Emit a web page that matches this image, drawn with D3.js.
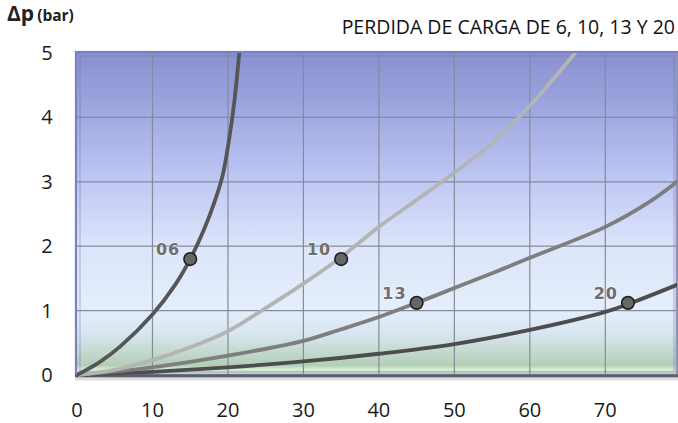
<!DOCTYPE html>
<html><head><meta charset="utf-8">
<script src="https://cdn.jsdelivr.net/npm/d3@7"></script>
<style>body{margin:0;background:#fff}svg{display:block}</style>
</head><body>
<svg id="c" width="678" height="423"></svg>
<script>
const title = "PERDIDA DE CARGA DE 6, 10, 13 Y 20";
const xTicks = [0,10,20,30,40,50,60,70];
const yTicks = [0,1,2,3,4,5];
const seriesNames = ["06","10","13","20"];
const s06 = [[0,0],[3,0.2],[5.7,0.44],[10,0.94],[13,1.4],[15,1.8],[16.8,2.25],[18.2,2.68],[19.3,3.1],[20.1,3.62],[20.8,4.2],[21.5,5.0]];
const s10 = [[0,0],[5,0.08],[10,0.23],[15,0.43],[20,0.68],[25,1.04],[30,1.42],[35,1.83],[40,2.3],[45,2.72],[50,3.14],[55,3.6],[60,4.18],[66,5.0]];
const s13 = [[0,0],[10,0.12],[20,0.3],[30,0.53],[35,0.71],[40,0.9],[45,1.12],[50,1.35],[55,1.58],[60,1.82],[70,2.3],[76,2.7],[79.5,3.0]];
const s20 = [[0,0],[10,0.05],[20,0.12],[30,0.21],[40,0.33],[50,0.48],[60,0.7],[70,0.98],[73,1.1],[79.5,1.4]];
const markers = [[15,1.8],[35,1.8],[45,1.12],[73,1.12]];

const svg = d3.select("#c");
const x = d3.scaleLinear().domain([0,79.5]).range([77,677]);
const y = d3.scaleLinear().domain([0,5]).range([375,53]);

const defs = svg.append("defs");
const g = defs.append("linearGradient").attr("id","bg").attr("x1",0).attr("y1",0).attr("x2",0).attr("y2",1);
[[0,"#8890d0"],[0.2,"#a2aae2"],[0.4,"#c0c8f4"],[0.6,"#dce5fa"],[0.8,"#e4eefb"],[0.87,"#d8e6f0"],[0.94,"#c0d6c8"],[0.97,"#b2ceb6"],[0.982,"#d4ecd0"],[1,"#c4d8c2"]]
  .forEach(d=>g.append("stop").attr("offset",d[0]).attr("stop-color",d[1]));

svg.append("rect").attr("x",x(0)).attr("y",y(5)).attr("width",x(79.5)-x(0)).attr("height",y(0)-y(5)).attr("fill","url(#bg)");

// grid
svg.append("g").selectAll("line").data(xTicks.slice(1)).join("line")
  .attr("x1",d=>x(d)).attr("x2",d=>x(d)).attr("y1",y(5)).attr("y2",y(0))
  .attr("stroke","#858b98").attr("stroke-width",1.2);
svg.append("g").selectAll("line").data(yTicks.slice(1,5)).join("line")
  .attr("x1",x(0)).attr("x2",x(79.5)).attr("y1",d=>y(d)).attr("y2",d=>y(d))
  .attr("stroke","#858b98").attr("stroke-width",1.2);

// frame
svg.append("rect").attr("x",x(0)-1).attr("y",y(5)-1).attr("width",x(79.5)-x(0)+1).attr("height",y(0)-y(5)+1)
  .attr("fill","none").attr("stroke","#7a80c0").attr("stroke-width",2.2);
svg.append("rect").attr("x",x(0)+3).attr("y",y(5)+3).attr("width",x(79.5)-x(0)-6).attr("height",y(0)-y(5)-6)
  .attr("fill","none").attr("stroke","#6a70b0").attr("stroke-width",1).attr("opacity",0.5);
svg.append("line").attr("x1",x(79.5)).attr("x2",x(79.5)).attr("y1",y(5)).attr("y2",y(0))
  .attr("stroke","#9094b4").attr("stroke-width",2.5);
svg.append("line").attr("x1",x(0)-2).attr("x2",x(79.5)+1).attr("y1",y(0)+1).attr("y2",y(0)+1)
  .attr("stroke","#5a5f5f").attr("stroke-width",3);
svg.append("line").attr("x1",x(0)-2).attr("x2",x(79.5)+1).attr("y1",y(0)+4).attr("y2",y(0)+4)
  .attr("stroke","#c8c8c8").attr("stroke-width",3).attr("opacity",0.6);

// curves
const line = d3.line().x(d=>x(d[0])).y(d=>y(d[1])).curve(d3.curveCatmullRom.alpha(0.5));
defs.append("clipPath").attr("id","cp").append("rect")
  .attr("x",x(0)).attr("y",y(5)).attr("width",x(79.5)-x(0)).attr("height",y(0)-y(5)+2);
const series = [[s20,"#4d4d4d"],[s13,"#7e7e7e"],[s10,"#b4b4b4"],[s06,"#565656"]];
svg.append("g").attr("clip-path","url(#cp)").selectAll("path").data(series).join("path")
  .attr("d",d=>line(d[0])).attr("fill","none").attr("stroke",d=>d[1]).attr("stroke-width",3.8).attr("stroke-linecap","round");

// markers
svg.append("g").selectAll("circle").data(markers).join("circle")
  .attr("cx",d=>x(d[0])).attr("cy",d=>y(d[1])).attr("r",6.3)
  .attr("fill","#676767").attr("stroke","#1e1e1e").attr("stroke-width",1.6);

// series labels
svg.append("g").selectAll("text").data(markers).join("text")
  .attr("x",d=>x(d[0])-10).attr("y",d=>y(d[1])-4)
  .attr("text-anchor","end")
  .attr("font-family","DejaVu Sans").attr("font-weight","bold").attr("font-size",16).attr("letter-spacing",1)
  .attr("fill","#6e6e6e").attr("stroke","#ffffff").attr("stroke-width",0.8).attr("paint-order","stroke")
  .text((d,i)=>seriesNames[i]);

// axes labels
svg.append("g").selectAll("text").data(xTicks).join("text")
  .attr("x",d=>x(d)).attr("y",417).attr("text-anchor","middle")
  .attr("font-family","Open Sans").attr("font-size",20).attr("fill","#1a1a1a").text(d=>d);
svg.append("g").selectAll("text").data(yTicks).join("text")
  .attr("x",47).attr("y",d=>y(d)+7).attr("text-anchor","middle")
  .attr("font-family","Open Sans").attr("font-size",20).attr("fill","#1a1a1a").text(d=>d);

// title
svg.append("text").attr("x",675).attr("y",34).attr("text-anchor","end")
  .attr("font-family","Open Sans").attr("font-size",19.5).attr("fill","#111").text(title);

// y-axis title
const yt = svg.append("text").attr("x",7).attr("y",21).attr("font-family","Open Sans").attr("font-weight","bold").attr("fill","#222");
yt.append("tspan").attr("font-size",21).text("Δp");
yt.append("tspan").attr("font-size",15.5).attr("dx",3).text("(bar)");
</script>
</body></html>
